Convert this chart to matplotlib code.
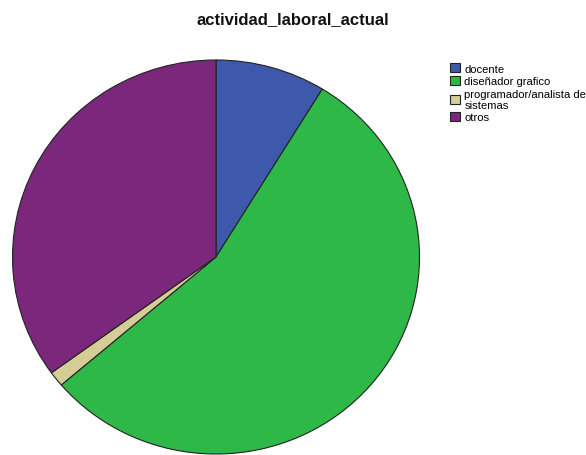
import matplotlib
matplotlib.use("Agg")
import matplotlib.pyplot as plt

categories = ["docente", "diseñador grafico", "programador/analista de\nsistemas", "otros"]
counts = [7, 44, 1, 28]
colors = ["#3E58AC", "#2EB848", "#D4CE96", "#7B287C"]

plt.rcParams['font.family'] = ['Liberation Sans', 'DejaVu Sans']

W, H = 586, 456
fig = plt.figure(figsize=(W / 100, H / 100), dpi=100)
fig.patch.set_facecolor("white")

# pie bbox in pixels
left, right, top, bottom = 12.5, 419.5, 61, 455
ax = fig.add_axes([left / W, 1 - bottom / H, (right - left) / W, (bottom - top) / H])
wedges, _ = ax.pie(counts, colors=colors, startangle=90, counterclock=False,
                   radius=1, wedgeprops=dict(edgecolor="#222222", linewidth=0.8))
ax.set_aspect('auto')
ax.set_xlim(-1, 1)
ax.set_ylim(-1, 1)
ax.axis('off')

fig.text(0.5, 1 - 20 / H, "actividad_laboral_actual", ha="center", va="center",
         fontsize=12, fontweight="bold", color="#111111")

leg = fig.legend(wedges, categories, loc="upper left",
                 bbox_to_anchor=(447.5 / W, 1 - 62 / H), frameon=False,
                 fontsize=8.1, handlelength=0.9, handleheight=0.85,
                 handletextpad=0.4, labelspacing=0.2, borderpad=0.2,
                 borderaxespad=0)
for t in leg.get_texts():
    t.set_linespacing(1.15)

fig.savefig("out.png", dpi=100, facecolor="white")
